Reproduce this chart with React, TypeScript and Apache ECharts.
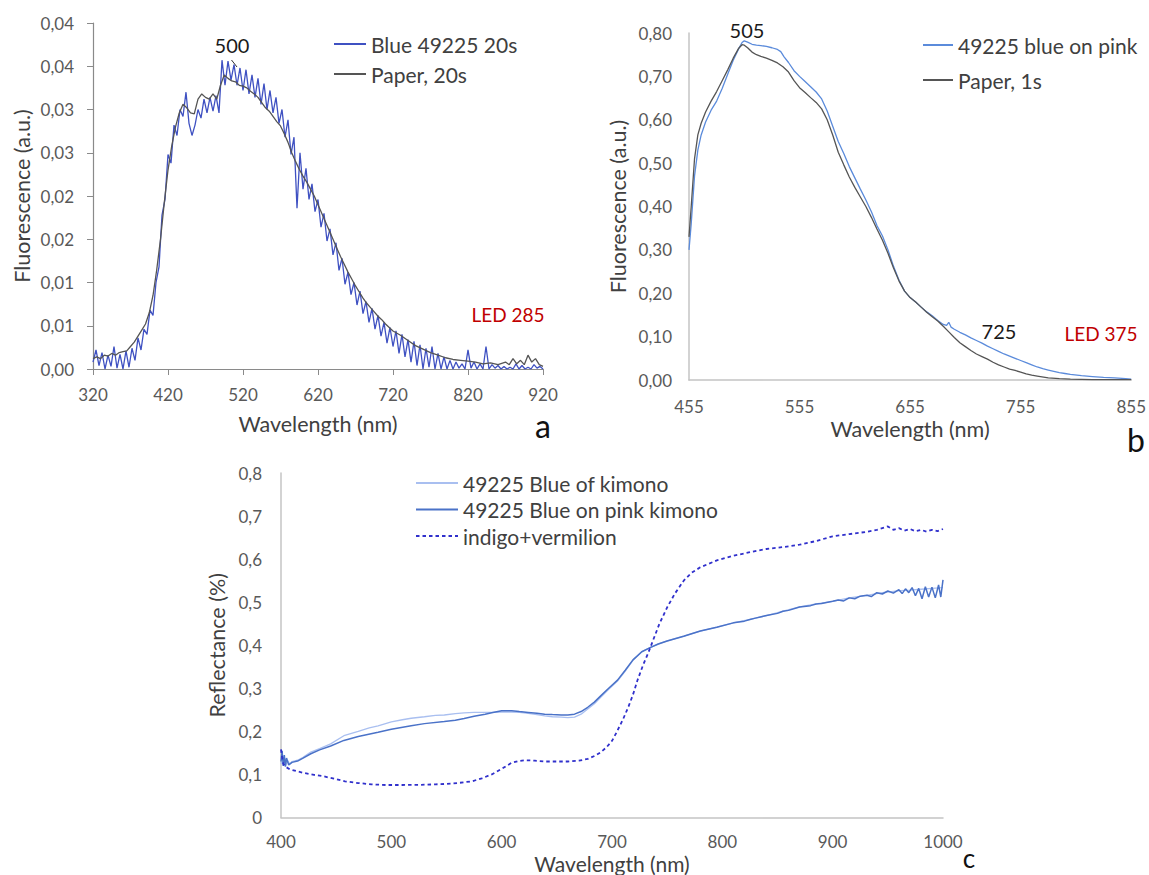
import React, { useEffect, useRef } from "react";
import * as echarts from "echarts";

const FONT = "Lato, 'Open Sans', sans-serif";

// ---------- Chart a ----------
const yTicksA = ["0,00", "0,01", "0,01", "0,02", "0,02", "0,03", "0,03", "0,04", "0,04"];
const blueA: [number, number][] = [
  [320, 0.0008], [324, 0.0022], [328, 0.0004], [332, 0.0019], [336, 0.0], [340, 0.0016], [344, 0.0003], [348, 0.0026],
  [352, 0.0001], [356, 0.0017], [360, 0.0], [364, 0.0021], [368, 0.0002], [372, 0.0024], [376, 0.001], [380, 0.0036],
  [384, 0.0022], [388, 0.0046], [392, 0.004], [396, 0.0068], [400, 0.0062], [404, 0.01], [408, 0.0118], [412, 0.0178],
  [416, 0.0196], [420, 0.0248], [424, 0.0238], [428, 0.0282], [432, 0.027], [436, 0.03], [440, 0.0292], [444, 0.032],
  [448, 0.0284], [452, 0.027], [456, 0.0282], [460, 0.03], [464, 0.029], [468, 0.0312], [472, 0.0296], [476, 0.0314],
  [480, 0.0298], [484, 0.0316], [488, 0.0296], [492, 0.0357], [496, 0.0328], [500, 0.0356], [504, 0.0334], [508, 0.0352],
  [512, 0.0328], [516, 0.0348], [520, 0.0322], [524, 0.0346], [528, 0.0318], [532, 0.034], [536, 0.0314], [540, 0.0336],
  [544, 0.0306], [548, 0.033], [552, 0.03], [556, 0.0322], [560, 0.0296], [564, 0.0314], [568, 0.0284], [572, 0.03],
  [576, 0.0268], [580, 0.0288], [584, 0.0248], [588, 0.0268], [592, 0.0186], [596, 0.025], [600, 0.0208], [604, 0.0232],
  [608, 0.0196], [612, 0.0214], [616, 0.0182], [620, 0.0196], [624, 0.0164], [628, 0.018], [632, 0.0148], [636, 0.0162],
  [640, 0.0132], [644, 0.0146], [648, 0.0114], [652, 0.0128], [656, 0.0098], [660, 0.0112], [664, 0.0086], [668, 0.01],
  [672, 0.0074], [676, 0.009], [680, 0.0064], [684, 0.0078], [688, 0.0054], [692, 0.007], [696, 0.0046], [700, 0.0062],
  [704, 0.0038], [708, 0.0054], [712, 0.003], [716, 0.0048], [720, 0.0026], [724, 0.0044], [728, 0.0018], [732, 0.004],
  [736, 0.0014], [740, 0.0034], [744, 0.0008], [748, 0.0032], [752, 0.0004], [756, 0.0028], [760, 0.0], [764, 0.0024],
  [768, 0.0002], [772, 0.0026], [776, 0.0], [780, 0.0018], [784, 0.0], [788, 0.0014], [792, 0.0], [796, 0.001],
  [800, 0.0], [804, 0.0008], [808, 0.0001], [812, 0.0006], [816, 0.0], [820, 0.0022], [824, 0.0001], [828, 0.0008],
  [832, 0.0], [836, 0.0006], [840, 0.0], [844, 0.0026], [848, 0.0], [852, 0.0005], [856, 0.0001], [860, 0.0004],
  [864, 0.0], [868, 0.0003], [872, 0.0], [876, 0.0002], [880, 0.0], [884, 0.0006], [888, 0.0], [892, 0.0004],
  [896, 0.0], [900, 0.0002], [904, 0.0], [908, 0.0005], [912, 0.0001], [916, 0.0003], [920, 0.0],
];
const paperA: [number, number][] = [
  [320, 0.0012], [325, 0.0014], [330, 0.0012], [335, 0.0016], [340, 0.0015], [345, 0.0018], [350, 0.0016], [355, 0.0019],
  [360, 0.002], [365, 0.0021], [370, 0.0026], [375, 0.0031], [380, 0.0038], [385, 0.0045], [390, 0.0052], [395, 0.0065],
  [400, 0.0085], [405, 0.0115], [410, 0.015], [415, 0.0192], [420, 0.023], [425, 0.0258], [430, 0.028], [435, 0.0296],
  [440, 0.0306], [445, 0.0302], [450, 0.0296], [455, 0.0295], [460, 0.0312], [465, 0.0318], [470, 0.0314], [475, 0.0312],
  [480, 0.0318], [485, 0.0312], [490, 0.0328], [495, 0.034], [500, 0.0336], [505, 0.0333], [510, 0.0332], [515, 0.0328],
  [520, 0.0327], [525, 0.0325], [530, 0.0321], [535, 0.0318], [540, 0.0314], [545, 0.0308], [550, 0.0302], [555, 0.0298],
  [560, 0.0292], [565, 0.0286], [570, 0.0281], [575, 0.0272], [580, 0.0262], [585, 0.025], [590, 0.024], [595, 0.0231],
  [600, 0.0223], [605, 0.0216], [610, 0.0208], [615, 0.02], [620, 0.019], [625, 0.018], [630, 0.017], [635, 0.016],
  [640, 0.015], [645, 0.014], [650, 0.013], [655, 0.0121], [660, 0.0112], [665, 0.0104], [670, 0.0096], [675, 0.0089],
  [680, 0.0082], [685, 0.0076], [690, 0.0071], [695, 0.0066], [700, 0.0061], [705, 0.0057], [710, 0.0052], [715, 0.0048],
  [720, 0.0044], [730, 0.0039], [740, 0.0033], [750, 0.0027], [760, 0.0023], [770, 0.0019], [780, 0.0016], [790, 0.0013],
  [800, 0.0011], [810, 0.001], [820, 0.0009], [830, 0.0008], [840, 0.0006], [850, 0.0007], [860, 0.0005], [870, 0.0008],
  [875, 0.0005], [880, 0.0012], [885, 0.0006], [890, 0.001], [895, 0.0005], [900, 0.0016], [905, 0.0008], [910, 0.0012],
  [915, 0.0005], [920, 0.0003],
];

// ---------- Chart b ----------
const yTicksB = ["0,00", "0,10", "0,20", "0,30", "0,40", "0,50", "0,60", "0,70", "0,80"];
const blueB: [number, number][] = [
  [455, 0.3], [457, 0.36], [460, 0.47], [463, 0.53], [466, 0.565], [470, 0.595], [475, 0.622], [480, 0.643],
  [485, 0.672], [490, 0.705], [495, 0.737], [500, 0.764], [503, 0.778], [505, 0.782], [508, 0.779], [512, 0.774],
  [516, 0.772], [520, 0.771], [525, 0.769], [530, 0.766], [535, 0.762], [538, 0.757], [541, 0.745], [545, 0.732],
  [550, 0.713], [555, 0.7], [560, 0.688], [565, 0.676], [570, 0.664], [575, 0.648], [580, 0.62], [585, 0.585],
  [590, 0.55], [595, 0.522], [600, 0.492], [605, 0.466], [610, 0.44], [615, 0.415], [620, 0.388], [625, 0.356],
  [630, 0.332], [635, 0.3], [640, 0.262], [645, 0.23], [650, 0.205], [655, 0.19], [660, 0.18], [665, 0.168],
  [670, 0.157], [675, 0.148], [680, 0.137], [685, 0.128], [688, 0.126], [690, 0.133], [692, 0.122], [695, 0.117],
  [700, 0.11], [705, 0.104], [710, 0.097], [715, 0.091], [720, 0.085], [725, 0.078], [730, 0.072], [735, 0.066],
  [740, 0.06], [745, 0.055], [750, 0.05], [755, 0.045], [760, 0.04], [765, 0.035], [770, 0.03], [775, 0.026],
  [780, 0.023], [785, 0.02], [790, 0.017], [795, 0.015], [800, 0.013], [810, 0.01], [820, 0.008], [830, 0.006],
  [840, 0.005], [850, 0.003], [855, 0.002],
];
const paperB: [number, number][] = [
  [455, 0.33], [457, 0.4], [460, 0.51], [463, 0.565], [466, 0.592], [470, 0.618], [475, 0.643], [480, 0.665],
  [485, 0.69], [490, 0.715], [495, 0.742], [500, 0.765], [503, 0.773], [505, 0.772], [508, 0.766], [512, 0.756],
  [516, 0.75], [520, 0.746], [525, 0.742], [530, 0.737], [535, 0.731], [540, 0.722], [545, 0.71], [550, 0.69],
  [555, 0.674], [560, 0.663], [565, 0.651], [570, 0.64], [575, 0.625], [580, 0.6], [585, 0.565], [590, 0.525],
  [595, 0.496], [600, 0.468], [605, 0.444], [610, 0.422], [615, 0.4], [620, 0.375], [625, 0.348], [630, 0.322],
  [635, 0.292], [640, 0.258], [645, 0.228], [650, 0.205], [655, 0.19], [660, 0.18], [665, 0.168], [670, 0.156],
  [675, 0.146], [680, 0.136], [685, 0.124], [690, 0.111], [695, 0.098], [700, 0.086], [705, 0.077], [710, 0.068],
  [715, 0.06], [720, 0.054], [725, 0.048], [730, 0.041], [735, 0.035], [740, 0.03], [745, 0.025], [750, 0.022],
  [755, 0.018], [760, 0.014], [765, 0.011], [770, 0.009], [780, 0.005], [790, 0.003], [800, 0.002], [820, 0.001],
  [855, 0.001],
];

// ---------- Chart c ----------
const yTicksC = ["0", "0,1", "0,2", "0,3", "0,4", "0,5", "0,6", "0,7", "0,8"];
const blueOfKimono: [number, number][] = [
  [400, 0.125], [402, 0.14], [404, 0.12], [406, 0.132], [408, 0.124], [410, 0.13], [415, 0.133], [420, 0.14],
  [427, 0.152], [435, 0.16], [445, 0.171], [457, 0.19], [470, 0.2], [480, 0.208], [488, 0.213], [500, 0.222],
  [510, 0.227], [518, 0.2305], [530, 0.234], [540, 0.237], [548, 0.238], [558, 0.241], [566, 0.243], [575, 0.244],
  [585, 0.244], [592, 0.244], [600, 0.245], [609, 0.245], [616, 0.244], [624, 0.242], [632, 0.239], [639, 0.236],
  [646, 0.234], [654, 0.233], [660, 0.232], [666, 0.233], [672, 0.24], [678, 0.252], [684, 0.264], [690, 0.28],
  [697, 0.298], [705, 0.317], [712, 0.34], [719, 0.365], [727, 0.385], [735, 0.395], [742, 0.403], [750, 0.41],
  [765, 0.421], [780, 0.433], [795, 0.442], [810, 0.452], [825, 0.46], [840, 0.469], [855, 0.479], [870, 0.489],
  [885, 0.496], [900, 0.502], [915, 0.51], [931, 0.516], [945, 0.522], [961, 0.527], [970, 0.528], [980, 0.53],
  [990, 0.532], [1000, 0.534],
];
const blueOnPink: [number, number][] = [
  [400, 0.13], [401, 0.155], [402, 0.12], [403, 0.145], [404, 0.118], [405, 0.138], [407, 0.122], [410, 0.128],
  [415, 0.131], [420, 0.138], [427, 0.148], [435, 0.157], [445, 0.166], [457, 0.179], [470, 0.188], [488, 0.198],
  [500, 0.205], [518, 0.213], [530, 0.218], [548, 0.223], [558, 0.226], [566, 0.23], [575, 0.235], [585, 0.24],
  [592, 0.244], [600, 0.248], [609, 0.248], [616, 0.246], [624, 0.244], [632, 0.242], [639, 0.24], [646, 0.239],
  [654, 0.238], [660, 0.238], [666, 0.24], [672, 0.246], [678, 0.256], [684, 0.268], [690, 0.283], [697, 0.3],
  [705, 0.319], [712, 0.342], [719, 0.366], [727, 0.385], [735, 0.395], [742, 0.403], [750, 0.41], [765, 0.421],
  [780, 0.433], [795, 0.442], [810, 0.452], [820, 0.456], [825, 0.46], [830, 0.463], [840, 0.469], [850, 0.474],
  [855, 0.479], [860, 0.481], [870, 0.489], [880, 0.492], [885, 0.496], [890, 0.497], [900, 0.502], [905, 0.505],
  [910, 0.503], [915, 0.51], [920, 0.508], [925, 0.514], [931, 0.516], [935, 0.513], [940, 0.522], [945, 0.519],
  [950, 0.526], [955, 0.521], [960, 0.529], [963, 0.52], [966, 0.531], [969, 0.522], [972, 0.534], [975, 0.515],
  [978, 0.532], [981, 0.508], [984, 0.536], [987, 0.512], [990, 0.535], [993, 0.51], [996, 0.54], [998, 0.512],
  [1000, 0.552],
];
const indigoVermilion: [number, number][] = [
  [400, 0.158], [401, 0.14], [402, 0.125], [404, 0.118], [408, 0.112], [415, 0.107], [420, 0.104], [430, 0.099],
  [438, 0.096], [448, 0.09], [458, 0.084], [470, 0.08], [482, 0.077], [495, 0.0755], [510, 0.0755], [525, 0.0757],
  [540, 0.077], [550, 0.078], [560, 0.08], [573, 0.084], [582, 0.091], [591, 0.1], [600, 0.113], [609, 0.127],
  [615, 0.131], [621, 0.133], [630, 0.132], [639, 0.13], [650, 0.13], [660, 0.13], [670, 0.132], [678, 0.136],
  [685, 0.144], [690, 0.152], [695, 0.163], [700, 0.178], [704, 0.197], [710, 0.228], [715, 0.258], [719, 0.285],
  [723, 0.318], [728, 0.353], [733, 0.383], [737, 0.41], [743, 0.45], [750, 0.488], [757, 0.52], [765, 0.55],
  [772, 0.568], [780, 0.581], [795, 0.597], [810, 0.608], [825, 0.616], [840, 0.6235], [855, 0.628], [870, 0.6335],
  [885, 0.642], [900, 0.653], [915, 0.658], [931, 0.6635], [940, 0.668], [945, 0.672], [950, 0.676], [955, 0.668],
  [960, 0.672], [965, 0.666], [970, 0.67], [975, 0.665], [980, 0.668], [985, 0.664], [990, 0.668], [995, 0.665],
  [1000, 0.67],
];

const LABEL = "#595959";
const NAME = "#404040";

function makeOption(): any {
  const tickLabel = (arr: string[], step: number) => (v: number) => arr[Math.round(v / step)] ?? "";
  const plain = (v: number) => String(Math.round(v));
  const baseLabel = { fontFamily: FONT, fontSize: 17, color: LABEL };
  const nameStyle = { fontFamily: FONT, fontSize: 21.5, color: NAME };
  const legendText = { fontFamily: FONT, fontSize: 21, color: NAME, lineHeight: 22 };
  const lineSeries = (name: string, data: any, xi: number, color: string, width: number, type: any = "solid", z = 2) => ({
    name,
    type: "line",
    xAxisIndex: xi,
    yAxisIndex: xi,
    data,
    showSymbol: false,
    symbol: "none",
    smooth: false,
    z,
    lineStyle: { color, width, type },
    itemStyle: { color },
  });
  const legendBase = {
    orient: "vertical",
    padding: 0,
    itemHeight: 14,
    itemStyle: { opacity: 0 },
    textStyle: legendText,
  };
  const panelLetter = (text: string, x: number, y: number, size: number) => ({
    type: "text", x, y,
    style: { text, fontFamily: FONT, fontSize: size, fill: "#111", align: "center", verticalAlign: "middle" },
  });

  return {
    animation: false,
    backgroundColor: "#ffffff",
    textStyle: { fontFamily: FONT },
    grid: [
      { left: 93, top: 23, width: 450, height: 346 },
      { left: 689, top: 33, width: 443, height: 347 },
      { left: 281, top: 473, width: 662, height: 346 },
    ],
    xAxis: [
      {
        gridIndex: 0, type: "value", min: 320, max: 920, interval: 100,
        axisLine: { show: true, lineStyle: { color: "#8a8a8a", width: 1.2 } },
        axisTick: { show: true, length: 6, lineStyle: { color: "#8a8a8a" } },
        axisLabel: { ...baseLabel, margin: 17, formatter: plain },
        splitLine: { show: false },
        name: "Wavelength (nm)", nameLocation: "middle", nameGap: 44, nameTextStyle: nameStyle,
      },
      {
        gridIndex: 1, type: "value", min: 455, max: 855, interval: 100,
        axisLine: { show: true, lineStyle: { color: "#c4c4c4", width: 1.5 } },
        axisTick: { show: false },
        axisLabel: { ...baseLabel, margin: 18, formatter: plain },
        splitLine: { show: false },
        name: "Wavelength (nm)", nameLocation: "middle", nameGap: 38, nameTextStyle: nameStyle,
      },
      {
        gridIndex: 2, type: "value", min: 400, max: 1000, interval: 100,
        axisLine: { show: true, lineStyle: { color: "#c4c4c4", width: 1.5 } },
        axisTick: { show: false },
        axisLabel: { ...baseLabel, margin: 15, formatter: plain },
        splitLine: { show: false },
        name: "Wavelength (nm)", nameLocation: "middle", nameGap: 35.5, nameTextStyle: { ...nameStyle, fontSize: 21 },
      },
    ],
    yAxis: [
      {
        gridIndex: 0, type: "value", min: 0, max: 0.04, interval: 0.005,
        axisLine: { show: true, lineStyle: { color: "#8a8a8a", width: 1.2 } },
        axisTick: { show: true, length: 6, lineStyle: { color: "#8a8a8a" } },
        axisLabel: { ...baseLabel, margin: 19, formatter: tickLabel(yTicksA, 0.005) },
        splitLine: { show: false },
        name: "Fluorescence (a.u.)", nameLocation: "middle", nameGap: 60, nameRotate: 90, nameTextStyle: nameStyle,
      },
      {
        gridIndex: 1, type: "value", min: 0, max: 0.8, interval: 0.1,
        axisLine: { show: true, lineStyle: { color: "#c4c4c4", width: 1.5 } },
        axisTick: { show: false },
        axisLabel: { ...baseLabel, margin: 17, formatter: tickLabel(yTicksB, 0.1) },
        splitLine: { show: false },
        name: "Fluorescence (a.u.)", nameLocation: "middle", nameGap: 60, nameRotate: 90, nameTextStyle: nameStyle,
      },
      {
        gridIndex: 2, type: "value", min: 0, max: 0.8, interval: 0.1,
        axisLine: { show: true, lineStyle: { color: "#c4c4c4", width: 1.5 } },
        axisTick: { show: false },
        axisLabel: { ...baseLabel, margin: 19, formatter: tickLabel(yTicksC, 0.1) },
        splitLine: { show: false },
        name: "Reflectance (%)", nameLocation: "middle", nameGap: 50, nameRotate: 90, nameTextStyle: nameStyle,
      },
    ],
    legend: [
      { ...legendBase, data: ["Blue 49225 20s", "Paper, 20s"], left: 333, top: 33, itemWidth: 32, itemGap: 8 },
      { ...legendBase, data: ["49225 blue on pink", "Paper, 1s"], left: 922, top: 34, itemWidth: 30, itemGap: 13 },
      {
        ...legendBase,
        data: ["49225 Blue of kimono", "49225 Blue on pink kimono", "indigo+vermilion"],
        left: 415, top: 472, itemWidth: 42, itemGap: 4.5,
      },
    ],
    series: [
      lineSeries("Paper, 20s", paperA, 0, "#555555", 1.3, "solid", 3),
      lineSeries("Blue 49225 20s", blueA, 0, "#3f51c2", 1.3, "solid", 2),
      lineSeries("49225 blue on pink", blueB, 1, "#5b8bdb", 1.3),
      lineSeries("Paper, 1s", paperB, 1, "#555555", 1.3),
      lineSeries("49225 Blue of kimono", blueOfKimono, 2, "#a9bff0", 1.3),
      lineSeries("49225 Blue on pink kimono", blueOnPink, 2, "#4a72c8", 1.5),
      lineSeries("indigo+vermilion", indigoVermilion, 2, "#3030cc", 1.8, [3.5, 3]),
    ],
    graphic: [
      { type: "text", x: 232, y: 45, style: { text: "500", fontFamily: FONT, fontSize: 20, fill: "#1a1a1a", align: "center", verticalAlign: "middle" } },
      { type: "line", shape: { x1: 231.5, y1: 60, x2: 237, y2: 67 }, style: { stroke: "#333", lineWidth: 1 } },
      { type: "text", x: 508, y: 314, style: { text: "LED 285", fontFamily: FONT, fontSize: 19, fill: "#c00000", align: "center", verticalAlign: "middle" } },
      panelLetter("a", 543, 425, 32),
      { type: "text", x: 747, y: 30, style: { text: "505", fontFamily: FONT, fontSize: 20, fill: "#1a1a1a", align: "center", verticalAlign: "middle" } },
      { type: "text", x: 999, y: 331, style: { text: "725", fontFamily: FONT, fontSize: 20, fill: "#1a1a1a", align: "center", verticalAlign: "middle" } },
      { type: "text", x: 1101, y: 333, style: { text: "LED 375", fontFamily: FONT, fontSize: 19, fill: "#c00000", align: "center", verticalAlign: "middle" } },
      panelLetter("b", 1136, 439, 32),
      panelLetter("c", 969, 858, 26),
    ],
  };
}

export default function App() {
  const ref = useRef<HTMLDivElement>(null);
  useEffect(() => {
    if (!ref.current) return;
    const chart = echarts.init(ref.current, null, { renderer: "svg" });
    chart.setOption(makeOption());
    return () => chart.dispose();
  }, []);
  return (
    <div
      ref={ref}
      style={{ position: "absolute", left: 0, top: 0, width: 1149, height: 875, background: "#fff" }}
    />
  );
}
